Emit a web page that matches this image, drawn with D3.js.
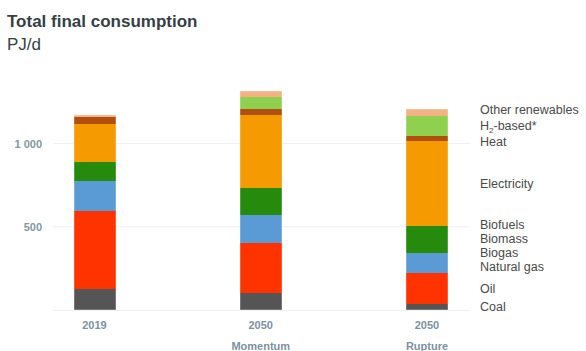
<!DOCTYPE html>
<html>
<head>
<meta charset="utf-8">
<script src="https://cdn.jsdelivr.net/npm/d3@7"></script>
<style>
  html, body { margin: 0; padding: 0; background: #fff; }
  svg { display: block; font-family: "Liberation Sans", Arial, sans-serif; }
</style>
</head>
<body>
<svg id="chart" width="586" height="351"></svg>
<script>
// Total final consumption by carrier, PJ/d
const years = ["2019", "2050", "2050"];
const scenarios = ["", "Momentum", "Rupture"];
const columnIds = ["2019", "2050 Momentum", "2050 Rupture"];

const seriesNames = ["Coal", "Oil", "Natural gas", "Biogas", "Biomass", "Biofuels",
                     "Electricity", "Heat", "H2-based*", "Other renewables"];
const coal            = [125, 105, 35];
const oil             = [470, 295, 185];
const naturalGas      = [180, 170, 120];
const biogas          = [5, 10, 15];
const biomass         = [95, 110, 125];
const biofuels        = [16, 40, 25];
const electricity     = [225, 440, 510];
const heat            = [45, 35, 30];
const h2Based         = [0, 75, 120];
const otherRenewables = [8, 35, 45];

const yTicks = [500, 1000];
const yTickLabels = ["500", "1 000"];

const seriesValues = [coal, oil, naturalGas, biogas, biomass, biofuels,
                      electricity, heat, h2Based, otherRenewables];
const colors = ["#555555", "#ff3300", "#5b9bd5", "#268a0c", "#268a0c", "#268a0c",
                "#f59a00", "#b0500c", "#8fd14f", "#f4b183"];

const rows = columnIds.map((id, i) => {
  const r = { id };
  seriesNames.forEach((s, k) => { r[s] = seriesValues[k][i]; });
  return r;
});

const svg = d3.select("#chart");
const plotLeft = 53, plotRight = 470, baseY = 310;

const y = d3.scaleLinear().domain([0, 1000]).range([baseY, 143.5]);
const x = d3.scalePoint().domain(columnIds).range([94.5, 427]);
const barW = 42;

// title
svg.append("text").attr("x", 7).attr("y", 27)
  .attr("font-size", 17).attr("font-weight", "bold").attr("fill", "#353f45")
  .text("Total final consumption");
svg.append("text").attr("x", 7).attr("y", 50)
  .attr("font-size", 17).attr("fill", "#353f45")
  .text("PJ/d");

// value axis labels
const axisY = d3.axisLeft(y).tickValues(yTicks)
  .tickFormat((d, i) => yTickLabels[i]).tickSize(0).tickPadding(0);
const gAxis = svg.append("g").attr("transform", `translate(${plotLeft - 11},0)`).call(axisY);
gAxis.select(".domain").remove();
gAxis.selectAll("text").attr("font-size", 11).attr("font-weight", "bold")
  .attr("fill", "#8497a4").attr("font-family", "Liberation Sans, Arial, sans-serif");

// gridlines and baseline
svg.append("g").selectAll("line").data(yTicks).join("line")
  .attr("x1", plotLeft).attr("x2", plotRight)
  .attr("y1", d => y(d)).attr("y2", d => y(d))
  .attr("stroke", "#eef0f2").attr("stroke-width", 1);
svg.append("line").attr("x1", plotLeft).attr("x2", plotRight)
  .attr("y1", y(0) + 0.5).attr("y2", y(0) + 0.5)
  .attr("stroke", "#eef0f2").attr("stroke-width", 1);

// stacked bars
const stack = d3.stack().keys(seriesNames);
const layers = stack(rows);

svg.append("g").attr("shape-rendering", "crispEdges")
  .selectAll("g").data(layers).join("g")
  .attr("fill", (d, i) => colors[i])
  .selectAll("rect").data(d => d).join("rect")
  .attr("x", d => Math.round(x(d.data.id) - barW / 2))
  .attr("width", barW)
  .attr("y", d => Math.round(y(d[1])))
  .attr("height", d => Math.max(0, Math.round(y(d[0])) - Math.round(y(d[1]))));

// soft outline round each whole bar
svg.append("g").selectAll("rect").data(rows).join("rect")
  .attr("x", d => Math.round(x(d.id) - barW / 2))
  .attr("width", barW)
  .attr("y", d => Math.round(y(d3.sum(seriesNames, s => d[s]))))
  .attr("height", d => Math.round(y(0)) - Math.round(y(d3.sum(seriesNames, s => d[s]))))
  .attr("fill", "none").attr("stroke", "#ffffff").attr("stroke-opacity", 0.4).attr("stroke-width", 1);

// category labels
const xl = svg.append("g");
columnIds.forEach((id, i) => {
  xl.append("text").attr("x", x(id)).attr("y", 329)
    .attr("text-anchor", "middle").attr("font-size", 11).attr("font-weight", "bold")
    .attr("fill", "#7d929f").text(years[i]);
  if (scenarios[i]) {
    xl.append("text").attr("x", x(id)).attr("y", 349.5)
      .attr("text-anchor", "middle").attr("font-size", 11).attr("font-weight", "bold")
      .attr("fill", "#7d929f").text(scenarios[i]);
  }
});

// series labels beside the last column, spread so they don't overlap
const last = layers.map(l => l[l.length - 1]);
const labels = seriesNames.map((s, i) => ({
  name: s,
  h: s === "H2-based*" ? 18 : 14,
  y: y((last[i][0] + last[i][1]) / 2)
}));
for (let iter = 0; iter < 300; iter++) {
  let moved = false;
  const sorted = labels.slice().sort((a, b) => a.y - b.y);
  for (let k = 1; k < sorted.length; k++) {
    const a = sorted[k - 1], b = sorted[k];
    const need = (a.h + b.h) / 2;
    const d = b.y - a.y;
    if (d < need - 0.01) {
      const push = (need - d) / 2;
      a.y -= push; b.y += push; moved = true;
    }
  }
  if (!moved) break;
}
const lg = svg.append("g").attr("font-size", 12.5).attr("fill", "#4a4a4a");
labels.forEach(l => {
  const t = lg.append("text").attr("x", 480).attr("y", l.y).attr("dy", "0.35em");
  if (l.name === "H2-based*") {
    t.append("tspan").text("H");
    t.append("tspan").attr("font-size", 8).attr("dy", 3).text("2");
    t.append("tspan").attr("dy", -3).text("-based*");
  } else {
    t.text(l.name);
  }
});
</script>
</body>
</html>
